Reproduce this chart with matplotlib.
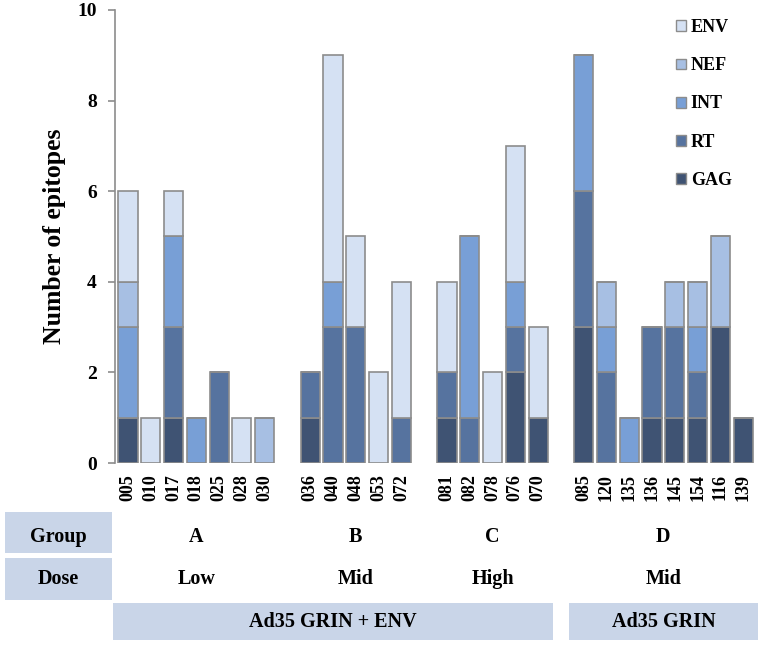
import matplotlib
matplotlib.use("Agg")
import matplotlib.pyplot as plt
import matplotlib.transforms as mtransforms
from matplotlib.patches import Rectangle, Patch
import numpy as np

plt.rcParams['font.family'] = ['Liberation Serif', 'DejaVu Serif']
plt.rcParams['font.weight'] = 'bold'

# animals per group, in plotting order
animals_a = ['005', '010', '017', '018', '025', '028', '030']
animals_b = ['036', '040', '048', '053', '072']
animals_c = ['081', '082', '078', '076', '070']
animals_d = ['085', '120', '135', '136', '145', '154', '116', '139']

# epitopes per protein (same order as animals)
gag = [1, 0, 1, 0, 0, 0, 0,   1, 0, 0, 0, 0,   1, 0, 0, 2, 1,   3, 0, 0, 1, 1, 1, 3, 1]
rt  = [0, 0, 2, 0, 2, 0, 0,   1, 3, 3, 0, 1,   1, 1, 0, 1, 0,   3, 2, 0, 2, 2, 1, 0, 0]
int_ = [2, 0, 2, 1, 0, 0, 0,  0, 1, 0, 0, 0,   0, 4, 0, 1, 0,   3, 1, 1, 0, 0, 1, 0, 0]
nef = [1, 0, 0, 0, 0, 0, 1,   0, 0, 0, 0, 0,   0, 0, 0, 0, 0,   0, 1, 0, 0, 1, 1, 2, 0]
env = [2, 1, 1, 0, 0, 1, 0,   0, 5, 2, 2, 3,   2, 0, 2, 3, 2,   0, 0, 0, 0, 0, 0, 0, 0]

groups = ['A', 'B', 'C', 'D']
doses = ['Low', 'Mid', 'High', 'Mid']
vaccines = ['Ad35 GRIN + ENV', 'Ad35 GRIN']

proteins = ['GAG', 'RT', 'INT', 'NEF', 'ENV']
colors = ['#3f5373', '#56739f', '#789fd6', '#a7bfe3', '#d5e1f3']
box_color = '#c9d5e8'

# x positions: one empty slot between groups
group_animals = [animals_a, animals_b, animals_c, animals_d]
xpos = []
group_ranges = []
start = 0
for g in group_animals:
    pos = list(range(start, start + len(g)))
    xpos += pos
    group_ranges.append((pos[0], pos[-1]))
    start = pos[-1] + 2
labels = animals_a + animals_b + animals_c + animals_d

W, H = 759, 645
fig = plt.figure(figsize=(W / 100, H / 100), dpi=100)
ax = fig.add_axes([115 / W, (H - 463) / H, (755 - 115) / W, (463 - 10) / H])

bottom = np.zeros(len(xpos))
for name, vals, c in zip(proteins, [gag, rt, int_, nef, env], colors):
    v = np.array(vals)
    ax.bar(xpos, v, bottom=bottom, width=0.84, color=c, edgecolor='#8c8c8c',
           linewidth=1.2, label=name)
    bottom += v

ax.set_xlim(-0.57, 27.52)
ax.set_ylim(0, 10)
ax.set_yticks([0, 2, 4, 6, 8, 10])
ax.tick_params(axis='y', labelsize=14, color='#8c8c8c', length=5, width=1.2, pad=8)
ax.set_xticks(xpos)
ax.set_xticklabels(labels, rotation=90, fontsize=13)
ax.tick_params(axis='x', length=0, pad=8)
for s in ['top', 'right', 'bottom']:
    ax.spines[s].set_visible(False)
ax.spines['left'].set_color('#8c8c8c')
ax.spines['left'].set_linewidth(1.2)
ax.set_ylabel('Number of epitopes', fontsize=18.5, fontweight='bold', labelpad=8)

handles = [Patch(facecolor=c, edgecolor='#8c8c8c', label=n)
           for n, c in zip(proteins, colors)][::-1]
ax.legend(handles=handles, loc='upper left', bbox_to_anchor=(669 / W, 1 - 12 / H),
          bbox_transform=fig.transFigure, frameon=False, fontsize=13,
          handlelength=0.55, handleheight=0.55, handletextpad=0.25,
          labelspacing=1.17, borderaxespad=0)

# table below the chart
def fy(py):
    return 1 - py / H

blend = mtransforms.blended_transform_factory(ax.transData, fig.transFigure)

fig.patches.append(Rectangle((5 / W, fy(553)), 107 / W, 41 / H, transform=fig.transFigure,
                             facecolor=box_color, edgecolor='none'))
fig.patches.append(Rectangle((5 / W, fy(600)), 107 / W, 42 / H, transform=fig.transFigure,
                             facecolor=box_color, edgecolor='none'))
fig.text(58 / W, fy(537), 'Group', ha='center', va='center', fontsize=14.5, fontweight='bold')
fig.text(58 / W, fy(579), 'Dose', ha='center', va='center', fontsize=14.5, fontweight='bold')

for (lo, hi), g, d in zip(group_ranges, groups, doses):
    xc = (lo + hi) / 2
    fig.text(xc, fy(537), g, transform=blend, ha='center', va='center',
             fontsize=14.5, fontweight='bold')
    fig.text(xc, fy(579), d, transform=blend, ha='center', va='center',
             fontsize=14.5, fontweight='bold')

vacc_spans = [(group_ranges[0][0], group_ranges[2][1]), group_ranges[3]]
for (lo, hi), name in zip(vacc_spans, vaccines):
    fig.patches.append(Rectangle((lo - 0.65, fy(640)), hi - lo + 1.3, 37 / H, transform=blend,
                                 facecolor=box_color, edgecolor='none'))
    fig.text((lo + hi) / 2, fy(622), name, transform=blend, ha='center', va='center',
             fontsize=14.5, fontweight='bold')

fig.savefig('out.png', dpi=100)
